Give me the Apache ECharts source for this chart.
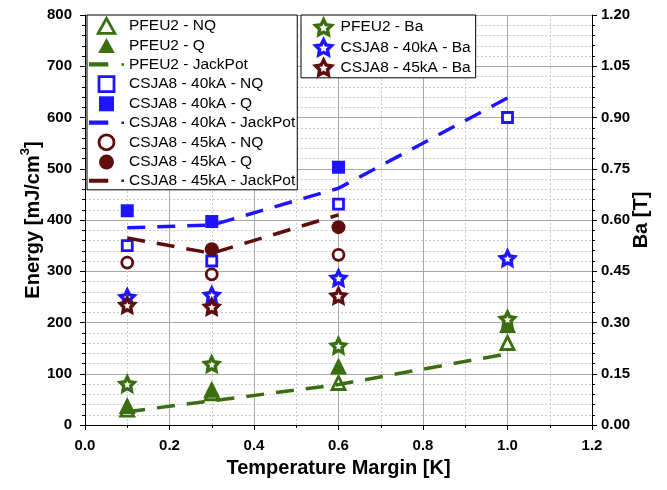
<!DOCTYPE html>
<html>
<head>
<meta charset="utf-8">
<script src="https://cdn.jsdelivr.net/npm/echarts@6/dist/echarts.min.js"></script>
<style>html,body{margin:0;padding:0;background:#fff}#c{width:667px;height:490px}</style>
</head>
<body>
<div id="c"></div>
<script>
// ---- data ----
var xVals = [0.1, 0.3, 0.6, 1.0];
var pfeu2NQ = [30, 62, 82, 160];
var pfeu2Q = [38, 70, 115, 196];
var pfeu2Jack = [26, 47, 79, 139];
var csja40NQ = [350, 320, 431, 600];
var csja40Q = [418, 397, 503, null];
var csja40Jack = [385, 390, 462, 638];
var csja45NQ = [317, 294, 332, null];
var csja45Q = [null, 343, 386, null];
var csja45Jack = [365, 335, 410, null];
var pfeu2Ba = [0.12, 0.178, 0.232, 0.31];
var csja40Ba = [0.374, 0.38, 0.43, 0.488];
var csja45Ba = [0.351, 0.346, 0.378, null];
var xTicks = [0.0, 0.2, 0.4, 0.6, 0.8, 1.0, 1.2];
var yTicks = [0, 100, 200, 300, 400, 500, 600, 700, 800];
var y2Ticks = [0.00, 0.15, 0.30, 0.45, 0.60, 0.75, 0.90, 1.05, 1.20];

var GREEN = '#3b6e11', BLUE = '#1e14ff', RED = '#5e0c0c';
var STAR = 'path://M0,-10L2.94,-4.05L9.51,-3.09L4.76,1.55L5.88,8.09L0,5L-5.88,8.09L-4.76,1.55L-9.51,-3.09L-2.94,-4.05Z';
var LINEICON = 'path://M0,0h19v4h-19z M32,0.8h2.5v2.5h-2.5z';
var LEG_ICON = { triangle: 'path://M0,-1L1,0.8L-1,0.8Z', rect: 'path://M0,0h1v1h-1z', circle: 'circle' };
var FONT = 'Liberation Sans';

function pairs(arr) {
  return xVals.map(function (x, i) { return [x, arr[i]]; }).filter(function (d) { return d[1] != null; });
}
function openSym(name, sym, size, color, data, yi, bw) {
  return { name: name, type: 'scatter', yAxisIndex: yi || 0, symbol: sym, symbolSize: size, data: pairs(data),
    itemStyle: { color: '#fff', borderColor: color, borderWidth: bw || 2.8, opacity: 1 } };
}
function fillSym(name, sym, size, color, data) {
  return { name: name, type: 'scatter', symbol: sym, symbolSize: size, data: pairs(data),
    itemStyle: { color: color, borderWidth: 0, opacity: 1 } };
}
function jack(name, color, data) {
  return { name: name, type: 'line', symbol: 'none', showSymbol: false, data: pairs(data),
    itemStyle: { color: color }, lineStyle: { color: color, width: 3.5, type: [18, 12] } };
}

var series = [
  openSym('PFEU2 - NQ', 'triangle', 13, GREEN, pfeu2NQ),
  fillSym('PFEU2 - Q', 'triangle', 17, GREEN, pfeu2Q),
  jack('PFEU2 - JackPot', GREEN, pfeu2Jack),
  openSym('CSJA8 - 40kA - NQ', 'rect', 10, BLUE, csja40NQ),
  fillSym('CSJA8 - 40kA - Q', 'rect', 13, BLUE, csja40Q),
  jack('CSJA8 - 40kA - JackPot', BLUE, csja40Jack),
  openSym('CSJA8 - 45kA - NQ', 'circle', 11, RED, csja45NQ),
  fillSym('CSJA8 - 45kA - Q', 'circle', 14, RED, csja45Q),
  jack('CSJA8 - 45kA - JackPot', RED, csja45Jack),
  openSym('PFEU2 - Ba', STAR, 14, GREEN, pfeu2Ba, 1, 3.4),
  openSym('CSJA8 - 40kA - Ba', STAR, 14, BLUE, csja40Ba, 1, 3.4),
  openSym('CSJA8 - 45kA - Ba', STAR, 14, RED, csja45Ba, 1, 3.4)
];

function legendItem(s) {
  var o = { name: s.name, symbolKeepAspect: true };
  if (s.type === 'line') { o.icon = LINEICON; o.itemStyle = { color: s.lineStyle.color, borderWidth: 0 }; }
  else {
    o.icon = LEG_ICON[s.symbol] || s.symbol;
    o.itemStyle = { color: s.itemStyle.color, borderColor: s.itemStyle.borderColor || s.itemStyle.color, borderWidth: s.itemStyle.borderWidth || 0, opacity: 1 };
  }
  return o;
}
var legText = { fontFamily: FONT, fontSize: 15.5, color: '#000', lineHeight: 16 };

var axisLabel = { fontFamily: FONT, fontSize: 15, fontWeight: 'bold', color: '#000' };
var nameStyle = { fontFamily: FONT, fontSize: 20, fontWeight: 'bold', color: '#000' };

var option = {
  animation: false,
  backgroundColor: '#fff',
  grid: { left: 85, right: 75, top: 15, bottom: 65, containLabel: false },
  legend: [
    { orient: 'vertical', left: 87, top: 15, padding: [2, 2, 1, 2], itemGap: 2.8, itemWidth: 35, itemHeight: 15,
      symbolKeepAspect: true,
      borderColor: '#000', borderWidth: 1, backgroundColor: '#fff', textStyle: legText, selectedMode: false,
      data: series.slice(0, 9).map(legendItem) },
    { orient: 'vertical', left: 301, top: 15, padding: [3, 5, 1, 13], itemGap: 1.8, itemWidth: 24, itemHeight: 15,
      symbolKeepAspect: true,
      borderColor: '#000', borderWidth: 1, backgroundColor: '#fff', textStyle: legText, selectedMode: false,
      data: series.slice(9).map(legendItem) }
  ],
  xAxis: {
    type: 'value', min: xTicks[0], max: xTicks[xTicks.length - 1], interval: xTicks[1] - xTicks[0],
    name: 'Temperature Margin [K]', nameLocation: 'middle', nameGap: 33, nameMoveOverlap: false, nameTextStyle: nameStyle,
    axisLine: { show: true, onZero: false, lineStyle: { color: '#000', width: 1 } },
    axisTick: { show: true, inside: false, length: 5, lineStyle: { color: '#000' } },
    minorTick: { show: true, splitNumber: 2, length: 3, lineStyle: { color: '#000' } },
    axisLabel: Object.assign({ margin: 13, formatter: function (v) { return v.toFixed(1); } }, axisLabel),
    splitLine: { show: true, lineStyle: { color: '#a8a8a8', width: 1 } },
    minorSplitLine: { show: true, lineStyle: { color: '#cccccc', width: 1, type: [2, 2] } }
  },
  yAxis: [
    {
      type: 'value', min: yTicks[0], max: yTicks[yTicks.length - 1], interval: yTicks[1] - yTicks[0],
      name: '{a|Energy [mJ/cm}{s|3}{a|]}', nameLocation: 'middle', nameGap: 42, nameRotate: 90, nameMoveOverlap: false,
      nameTextStyle: Object.assign({ rich: {
        a: { fontFamily: FONT, fontSize: 20, fontWeight: 'bold', color: '#000', verticalAlign: 'bottom' },
        s: { fontFamily: FONT, fontSize: 13, fontWeight: 'bold', color: '#000', verticalAlign: 'bottom', padding: [0, 0, 11, 0] }
      } }, nameStyle),
      axisLine: { show: true, onZero: false, lineStyle: { color: '#000', width: 1 } },
      axisTick: { show: true, inside: false, length: 5, lineStyle: { color: '#000' } },
      minorTick: { show: true, splitNumber: 5, length: 3, lineStyle: { color: '#000' } },
      axisLabel: Object.assign({ margin: 13 }, axisLabel),
      splitLine: { show: true, lineStyle: { color: '#a8a8a8', width: 1 } },
      minorSplitLine: { show: true, lineStyle: { color: '#cccccc', width: 1, type: [2, 2] } }
    },
    {
      type: 'value', position: 'right', min: y2Ticks[0], max: y2Ticks[y2Ticks.length - 1], interval: y2Ticks[1] - y2Ticks[0],
      name: 'Ba [T]', nameLocation: 'middle', nameGap: 39, nameRotate: 90, nameMoveOverlap: false, nameTextStyle: nameStyle,
      axisLine: { show: true, onZero: false, lineStyle: { color: '#000', width: 1 } },
      axisTick: { show: true, inside: false, length: 5, lineStyle: { color: '#000' } },
      minorTick: { show: true, splitNumber: 5, length: 3, lineStyle: { color: '#000' } },
      axisLabel: Object.assign({ margin: 9, formatter: function (v) { return v.toFixed(2); } }, axisLabel),
      splitLine: { show: false }
    }
  ],
  series: series
};
echarts.init(document.getElementById('c')).setOption(option);
</script>
</body>
</html>
